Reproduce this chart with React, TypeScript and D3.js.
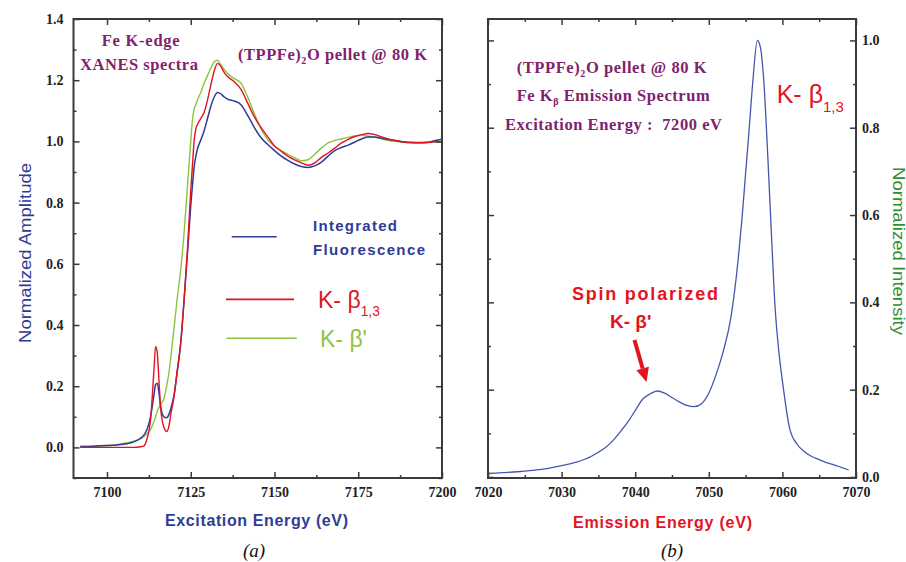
import React, { useEffect, useRef } from 'react';
import * as d3 from 'd3';

// (a) Fe K-edge XANES
const xanesEnergy = [
  7092, 7096, 7100, 7103, 7106, 7108, 7110, 7111, 7112, 7113,
  7114, 7114.5, 7115, 7115.5, 7116, 7117, 7117.8, 7118.5, 7119, 7120,
  7121, 7122, 7123, 7124, 7125, 7125.5, 7126, 7126.5, 7127, 7128,
  7129, 7130, 7131, 7132, 7133, 7134, 7135, 7136, 7138, 7140,
  7142, 7144, 7146, 7148, 7150, 7152, 7154, 7156, 7158, 7160,
  7162, 7164, 7166, 7168, 7170, 7172, 7174, 7176, 7178, 7180,
  7182, 7184, 7186, 7188, 7190, 7192, 7194, 7196, 7198, 7200,
];
const fluorescence = [
  0.003, 0.004, 0.006, 0.008, 0.012, 0.018, 0.03, 0.04, 0.06, 0.1,
  0.17, 0.205, 0.21, 0.18, 0.135, 0.1, 0.097, 0.108, 0.125, 0.17,
  0.25, 0.34, 0.48, 0.63, 0.79, 0.855, 0.915, 0.95, 0.975, 1.005,
  1.035, 1.075, 1.115, 1.145, 1.16, 1.155, 1.145, 1.138, 1.132, 1.12,
  1.085, 1.045, 1.012, 0.99, 0.97, 0.952, 0.938, 0.926, 0.918, 0.915,
  0.92, 0.932, 0.952, 0.97, 0.98, 0.988, 0.998, 1.008, 1.014, 1.014,
  1.01, 1.006, 1.003, 0.999, 0.996, 0.996, 0.996, 0.997, 1.003, 1.007,
];
const kBeta13 = [
  0, 0, 0, 0, 0, 0, 0.002, 0.005, 0.03, 0.09,
  0.25, 0.33, 0.31, 0.22, 0.13, 0.065, 0.052, 0.07, 0.105, 0.165,
  0.255, 0.34, 0.48, 0.645, 0.84, 0.92, 1.0, 1.04, 1.055, 1.075,
  1.095, 1.135, 1.185, 1.23, 1.255, 1.245, 1.225, 1.212, 1.195, 1.17,
  1.125, 1.08, 1.045, 1.015, 0.985, 0.968, 0.952, 0.94, 0.93, 0.922,
  0.93, 0.948, 0.962, 0.978, 0.995, 1.007, 1.016, 1.022, 1.026, 1.022,
  1.015, 1.008, 1.003, 0.999, 0.997, 0.996, 0.996, 0.997, 0.999, 1.0,
];
const kBetaPrime = [
  0.003, 0.004, 0.006, 0.009, 0.015, 0.02, 0.028, 0.035, 0.045, 0.058,
  0.085, 0.1, 0.118, 0.13, 0.14, 0.16, 0.2, 0.245, 0.29, 0.39,
  0.49, 0.58, 0.7, 0.85, 1.0, 1.07, 1.105, 1.12, 1.135, 1.16,
  1.19, 1.215, 1.24, 1.26, 1.265, 1.25, 1.235, 1.222, 1.205, 1.19,
  1.145, 1.09, 1.04, 1.005, 0.985, 0.97, 0.958, 0.947, 0.937, 0.94,
  0.958, 0.978, 0.995, 1.003, 1.008, 1.013, 1.018, 1.02, 1.017, 1.013,
  1.008, 1.003, 1.0, 0.998, 0.996, 0.994, 0.994, 0.996, 0.998, 0.997,
];

// (b) Fe K-beta emission
const emissionEnergy = [
  7020, 7022, 7024, 7026, 7028, 7030, 7032, 7034, 7035, 7036,
  7037, 7038, 7039, 7040, 7041, 7042, 7043, 7044, 7045, 7046,
  7047, 7048, 7049, 7050, 7051, 7052, 7053, 7053.5, 7054, 7054.5,
  7055, 7055.5, 7056, 7056.6, 7057, 7057.5, 7058, 7058.5, 7059, 7059.5,
  7060, 7061, 7062, 7063, 7064, 7065, 7066, 7067, 7068, 7069,
];
const emissionIntensity = [
  0.008, 0.01, 0.012, 0.015, 0.019, 0.026, 0.034, 0.047, 0.057, 0.068,
  0.084, 0.104, 0.126, 0.152, 0.178, 0.19, 0.197, 0.192, 0.182, 0.172,
  0.164, 0.161, 0.168, 0.192, 0.235, 0.29, 0.365, 0.425, 0.5, 0.59,
  0.695, 0.8, 0.91, 1.0, 0.985, 0.9, 0.74, 0.56, 0.39, 0.29,
  0.22, 0.11, 0.075, 0.058, 0.047, 0.04, 0.033, 0.028, 0.022, 0.016,
];

const xanesXTicks = [7100, 7125, 7150, 7175, 7200];
const xanesXMinor = [7112.5, 7137.5, 7162.5, 7187.5];
const xanesYTicks = [0, 0.2, 0.4, 0.6, 0.8, 1.0, 1.2, 1.4];
const xanesYMinor = [-0.1, 0.1, 0.3, 0.5, 0.7, 0.9, 1.1, 1.3];
const emissionXTicks = [7020, 7030, 7040, 7050, 7060, 7070];
const emissionXMinor = [7025, 7035, 7045, 7055, 7065];
const emissionYTicks = [0, 0.2, 0.4, 0.6, 0.8, 1.0];
const emissionYMinor = [0.1, 0.3, 0.5, 0.7, 0.9];

const BLUE = '#2e3c96';
const RED = '#e2141f';
const GREEN = '#8cc43f';
const PURPLE = '#80226e';
const AXIS = '#3a3a3a';
const SERIF = '"Liberation Serif", "Times New Roman", serif';
const SANS = '"Liberation Sans", Arial, sans-serif';

type Sel = d3.Selection<any, unknown, null, undefined>;

// stretch letter spacing so the text spans a given width
const fit = (t: Sel, w: number) => {
  const node = t.node() as SVGTextElement;
  const len = node.getComputedTextLength();
  const n = (node.textContent || '').length;
  if (n > 1) t.attr('letter-spacing', (w - len) / (n - 1));
};

const frame = (
  g: Sel,
  x: d3.ScaleLinear<number, number>,
  y: d3.ScaleLinear<number, number>,
  xMajor: number[],
  xMinor: number[],
  yMajor: number[],
  yMinor: number[],
  labelSide: 'left' | 'right'
) => {
  const [x0, x1] = x.range();
  const [y0, y1] = y.range();
  const style = (a: Sel) => {
    a.select('.domain').remove();
    a.selectAll('line').attr('stroke', AXIS).attr('stroke-width', 1.5);
    a.attr('font-family', SERIF).attr('font-size', 14).attr('font-weight', 'bold');
    a.selectAll('text').attr('fill', '#222');
  };
  const fmtX = d3.format('d');
  const fmtY = d3.format('.1f');
  const none = () => '';

  g.append('g').attr('transform', `translate(0,${y0})`)
    .call(d3.axisBottom(x).tickValues(xMajor).tickSize(-6).tickPadding(9).tickFormat(fmtX as any)).call(style);
  g.append('g').attr('transform', `translate(0,${y0})`)
    .call(d3.axisBottom(x).tickValues(xMinor).tickSize(-3).tickFormat(none)).call(style);
  g.append('g').attr('transform', `translate(0,${y1})`)
    .call(d3.axisTop(x).tickValues(xMajor).tickSize(-6).tickFormat(none)).call(style);
  g.append('g').attr('transform', `translate(0,${y1})`)
    .call(d3.axisTop(x).tickValues(xMinor).tickSize(-3).tickFormat(none)).call(style);

  g.append('g').attr('transform', `translate(${x0},0)`)
    .call(d3.axisLeft(y).tickValues(yMajor).tickSize(-6).tickPadding(10)
      .tickFormat(labelSide === 'left' ? (fmtY as any) : none)).call(style);
  g.append('g').attr('transform', `translate(${x0},0)`)
    .call(d3.axisLeft(y).tickValues(yMinor).tickSize(-3).tickFormat(none)).call(style);
  g.append('g').attr('transform', `translate(${x1},0)`)
    .call(d3.axisRight(y).tickValues(yMajor).tickSize(-6).tickPadding(6)
      .tickFormat(labelSide === 'right' ? (fmtY as any) : none)).call(style);
  g.append('g').attr('transform', `translate(${x1},0)`)
    .call(d3.axisRight(y).tickValues(yMinor).tickSize(-3).tickFormat(none)).call(style);

  g.append('rect')
    .attr('x', x0).attr('y', y1)
    .attr('width', x1 - x0).attr('height', y0 - y1)
    .attr('fill', 'none').attr('stroke', AXIS).attr('stroke-width', 2);
};

const kBetaLabel = (g: Sel, x: number, y: number, size: number, color: string, sub: string) => {
  const t = g.append('text').attr('x', x).attr('y', y)
    .attr('font-family', SANS).attr('font-size', size).attr('fill', color);
  t.append('tspan').text('K- \u03b2' + (sub ? '' : "'"));
  if (sub) t.append('tspan').attr('font-size', size * 0.6).attr('dy', size * 0.36).text(sub);
  return t;
};

const App: React.FC = () => {
  const svgRef = useRef<SVGSVGElement>(null);

  useEffect(() => {
    if (!svgRef.current) return;
    const svg = d3.select(svgRef.current);
    svg.selectAll('*').remove();

    // ---------- panel (a) ----------
    const xA = d3.scaleLinear().domain([7090, 7200]).range([73.5, 442]);
    const yA = d3.scaleLinear().domain([-0.1, 1.4]).range([478, 19]);
    const gA = svg.append('g');

    const lineA = (vals: number[]) =>
      d3.line<number>()
        .x((_, i) => xA(xanesEnergy[i]))
        .y((d) => yA(d))
        .curve(d3.curveMonotoneX)(vals);

    const seriesA = [
      { vals: kBetaPrime, color: GREEN, w: 1.4 },
      { vals: fluorescence, color: BLUE, w: 1.5 },
      { vals: kBeta13, color: RED, w: 1.4 },
    ];
    seriesA.forEach((s) => {
      gA.append('path').attr('d', lineA(s.vals)).attr('fill', 'none')
        .attr('stroke', s.color).attr('stroke-width', s.w);
    });

    frame(gA, xA, yA, xanesXTicks, xanesXMinor, xanesYTicks, xanesYMinor, 'left');

    const purple = (g: Sel, x: number, y: number) =>
      g.append('text').attr('x', x).attr('y', y)
        .attr('font-family', SERIF).attr('font-size', 16.5).attr('font-weight', 'bold')
        .attr('fill', PURPLE).style('white-space', 'pre');

    fit(purple(gA, 101.7, 46).text('Fe K-edge'), 78);
    fit(purple(gA, 80, 70).text('XANES spectra'), 118);
    const tp = purple(gA, 238, 60);
    tp.append('tspan').text('(TPPFe)');
    tp.append('tspan').attr('font-size', 10).attr('dy', 4).text('2');
    tp.append('tspan').attr('dy', -4).text('O pellet @ 80 K');
    fit(tp, 189);

    // legend
    const legend = [
      { color: BLUE, x0: 231.7, x1: 276.7, y: 236.7, w: 1.5 },
      { color: RED, x0: 226, x1: 294, y: 299.3, w: 1.8 },
      { color: GREEN, x0: 226.7, x1: 296.7, y: 338.3, w: 1.5 },
    ];
    legend.forEach((l) => {
      gA.append('line').attr('x1', l.x0).attr('x2', l.x1).attr('y1', l.y).attr('y2', l.y)
        .attr('stroke', l.color).attr('stroke-width', l.w);
    });
    const legText = (txt: string, y: number, w: number) =>
      fit(gA.append('text').attr('x', 313).attr('y', y).attr('font-family', SANS)
        .attr('font-size', 15).attr('font-weight', 'bold').attr('fill', BLUE).text(txt), w);
    legText('Integrated', 230.5, 84);
    legText('Fluorescence', 255, 112);
    kBetaLabel(gA, 318, 308, 23, RED, '1,3');
    kBetaLabel(gA, 320, 346.7, 23, GREEN, '');

    const titleA = gA.append('text').attr('x', 165).attr('y', 526)
      .attr('font-family', SANS).attr('font-size', 16).attr('font-weight', 'bold')
      .attr('fill', BLUE).text('Excitation Energy (eV)');
    fit(titleA, 183);

    gA.append('text')
      .attr('transform', 'translate(31,253) rotate(-90)')
      .attr('text-anchor', 'middle')
      .attr('font-family', SANS).attr('font-size', 17).attr('fill', BLUE)
      .attr('textLength', 180).attr('lengthAdjust', 'spacingAndGlyphs')
      .text('Normalized Amplitude');

    gA.append('text').attr('x', 254).attr('y', 557).attr('text-anchor', 'middle')
      .attr('font-family', SERIF).attr('font-size', 19).attr('font-style', 'italic')
      .attr('fill', '#111').text('(a)');

    // ---------- panel (b) ----------
    const xB = d3.scaleLinear().domain([7020, 7070]).range([488, 856]);
    const yB = d3.scaleLinear().domain([-0.0023, 1.049]).range([478, 19]);
    const gB = svg.append('g');

    const lineB = d3.line<number>()
      .x((_, i) => xB(emissionEnergy[i]))
      .y((d) => yB(d))
      .curve(d3.curveMonotoneX);
    gB.append('path').attr('d', lineB(emissionIntensity)).attr('fill', 'none')
      .attr('stroke', '#4656ad').attr('stroke-width', 1.3);

    frame(gB, xB, yB, emissionXTicks, emissionXMinor, emissionYTicks, emissionYMinor, 'right');

    const tb1 = purple(gB, 516.7, 73);
    tb1.append('tspan').text('(TPPFe)');
    tb1.append('tspan').attr('font-size', 10).attr('dy', 4).text('2');
    tb1.append('tspan').attr('dy', -4).text('O pellet @ 80 K');
    fit(tb1, 190);
    const tb2 = purple(gB, 516.7, 101);
    tb2.append('tspan').text('Fe K');
    tb2.append('tspan').attr('font-size', 10).attr('dy', 4).text('\u03b2');
    tb2.append('tspan').attr('dy', -4).text(' Emission Spectrum');
    fit(tb2, 193);
    fit(purple(gB, 505, 130).text('Excitation Energy :  7200 eV'), 217);

    kBetaLabel(gB, 776.7, 103, 25, RED, '1,3');

    const spin = gB.append('text').attr('x', 572).attr('y', 300)
      .attr('font-family', SANS).attr('font-size', 18).attr('font-weight', 'bold')
      .attr('fill', RED).text('Spin polarized');
    fit(spin, 146);
    gB.append('text').attr('x', 610).attr('y', 328)
      .attr('font-family', SANS).attr('font-size', 19).attr('font-weight', 'bold')
      .attr('fill', RED).text("K- \u03b2'");

    // arrow toward the K-beta' satellite
    const tail: [number, number] = [634.5, 340];
    const tip: [number, number] = [646.5, 382];
    const ang = Math.atan2(tip[1] - tail[1], tip[0] - tail[0]);
    const hl = 14;
    const hw = 6.5;
    const bx = tip[0] - hl * Math.cos(ang);
    const by = tip[1] - hl * Math.sin(ang);
    gB.append('line').attr('x1', tail[0]).attr('y1', tail[1]).attr('x2', bx).attr('y2', by)
      .attr('stroke', RED).attr('stroke-width', 4);
    gB.append('polygon')
      .attr('points', [
        tip,
        [bx + hw * Math.sin(ang), by - hw * Math.cos(ang)],
        [bx - hw * Math.sin(ang), by + hw * Math.cos(ang)],
      ].map((p) => p.join(',')).join(' '))
      .attr('fill', RED);

    const titleB = gB.append('text').attr('x', 573).attr('y', 527.5)
      .attr('font-family', SANS).attr('font-size', 16).attr('font-weight', 'bold')
      .attr('fill', RED).text('Emission Energy (eV)');
    fit(titleB, 179);

    gB.append('text')
      .attr('transform', 'translate(893,251) rotate(90)')
      .attr('text-anchor', 'middle')
      .attr('font-family', SANS).attr('font-size', 16).attr('fill', '#2f8f35')
      .attr('textLength', 168).attr('lengthAdjust', 'spacingAndGlyphs')
      .text('Normalized Intensity');

    gB.append('text').attr('x', 672).attr('y', 557).attr('text-anchor', 'middle')
      .attr('font-family', SERIF).attr('font-size', 19).attr('font-style', 'italic')
      .attr('fill', '#111').text('(b)');
  }, []);

  return (
    <svg
      ref={svgRef}
      width={906}
      height={562}
      style={{ position: 'absolute', left: 0, top: 0, background: '#fff' }}
    />
  );
};

export default App;
